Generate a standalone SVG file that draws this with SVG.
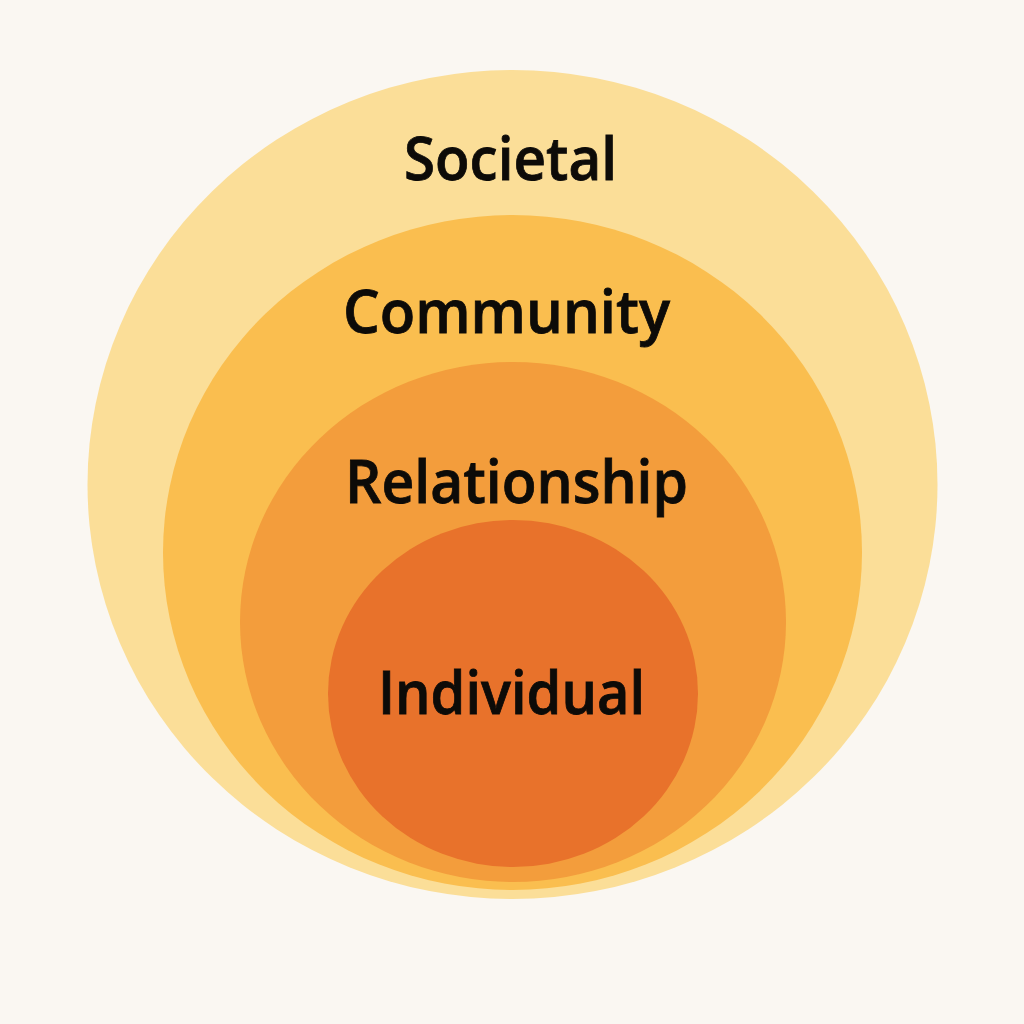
<svg xmlns="http://www.w3.org/2000/svg" width="1024" height="1024" viewBox="0 0 1024 1024">
<style>
.lbl{font-family:"Open Sans","Noto Sans","Liberation Sans",sans-serif;font-weight:600;font-size:60px;fill:#0d0b08;text-anchor:middle;stroke:#0d0b08;stroke-width:0.8px}
</style>
<rect width="1024" height="1024" fill="#FAF7F2"/>
<g id="societal">
<ellipse cx="512.5" cy="484.5" rx="425" ry="414.5" fill="#FBDE98"/>
<text class="lbl" x="510.5" y="180" textLength="213" lengthAdjust="spacingAndGlyphs">Societal</text>
</g>
<g id="community">
<ellipse cx="512.5" cy="552.5" rx="349.5" ry="337.5" fill="#FABE4F"/>
<text class="lbl" x="506.5" y="333" textLength="327" lengthAdjust="spacingAndGlyphs">Community</text>
</g>
<g id="relationship">
<ellipse cx="513" cy="622" rx="273" ry="260" fill="#F39D3C"/>
<text class="lbl" x="516.5" y="503" textLength="343" lengthAdjust="spacingAndGlyphs">Relationship</text>
</g>
<g id="individual">
<ellipse cx="513" cy="693.5" rx="185" ry="173.5" fill="#E8722B"/>
<text class="lbl" x="511.5" y="714" textLength="267" lengthAdjust="spacingAndGlyphs">Individual</text>
</g>
<g id="connectors"/>
</svg>
